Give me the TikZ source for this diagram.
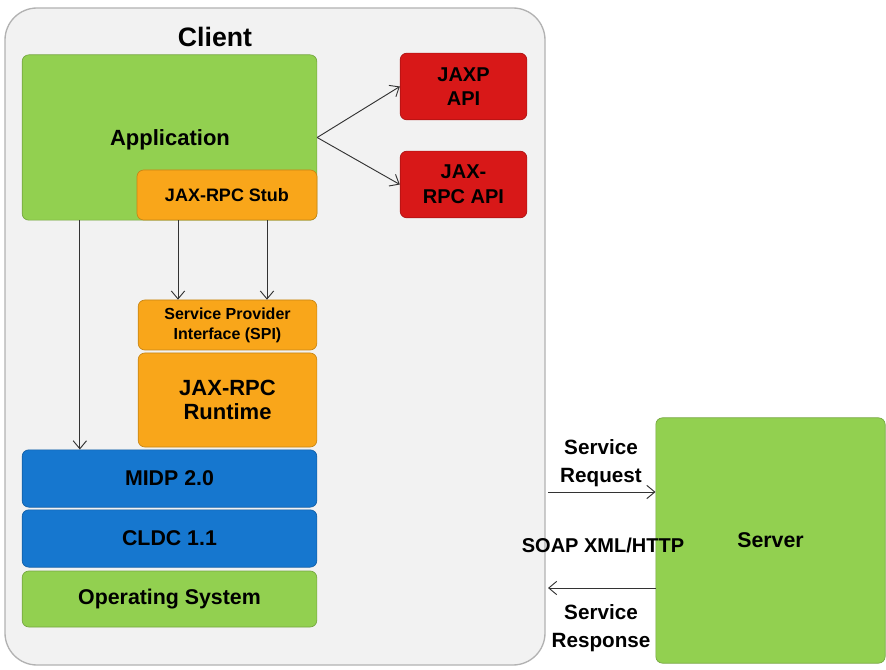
\documentclass[tikz,border=0pt]{standalone}
\usepackage{fontspec}
\setmainfont{Liberation Sans}
\usetikzlibrary{arrows.meta,calc}
\definecolor{appgreen}{HTML}{92D050}
\definecolor{stuborange}{HTML}{F9A61A}
\definecolor{apired}{HTML}{D81818}
\definecolor{midpblue}{HTML}{1677CF}
\newcommand{\fsz}[2]{\fontsize{#1}{#2}\selectfont\bfseries}

\begin{document}
\begin{tikzpicture}[x=0.75pt,y=-0.75pt,
	layer/.style={rounded corners=5pt,align=center,inner sep=0pt,draw=#1!80!black,fill=#1,line width=0.5pt},
	conn/.style={-{Straight Barb[length=6pt,width=10pt]},draw=black!80,line width=0.7pt}]
	\useasboundingbox (0,0) rectangle (886,670);
	\draw[rounded corners=24pt,draw=black!30,fill=black!5,line width=1pt] (5,8) rectangle (545,665);
	\node[font=\fsz{20}{24}] (clienttitle) at (215,37) {Client};
	\node[layer=appgreen,minimum width=221pt,minimum height=124pt] (app) at (169.5,137.5) {};
	\node[font=\fsz{16.5}{20}] (applabel) at (170,140) {Application};
	\node[layer=stuborange,minimum width=135pt,minimum height=37.5pt,font=\fsz{13.5}{16}] (stub) at (227,195) {JAX-RPC Stub};
	\node[layer=apired,minimum width=95pt,minimum height=50pt,font=\fsz{15}{18.5}] (jaxp) at (463.5,86.5) {JAXP\\API};
	\node[layer=apired,minimum width=95pt,minimum height=50pt,font=\fsz{15}{18.5}] (jaxrpc) at (463.5,184.5) {JAX-\\RPC API};
	\node[layer=stuborange,minimum width=134pt,minimum height=37.5pt,font=\fsz{12}{15}] (spi) at (227.5,325) {Service Provider\\Interface (SPI)};
	\node[layer=stuborange,minimum width=134pt,minimum height=70.5pt,font=\fsz{16.5}{18.5}] (runtime) at (227.5,400) {JAX-RPC\\Runtime};
	\node[layer=midpblue,minimum width=221pt,minimum height=43pt,font=\fsz{16}{19}] (midp) at (169.5,478.5) {MIDP 2.0};
	\node[layer=midpblue,minimum width=221pt,minimum height=43pt,font=\fsz{16}{19}] (cldc) at (169.5,538.5) {CLDC 1.1};
	\node[layer=appgreen,minimum width=221pt,minimum height=42pt,font=\fsz{16}{19}] (os) at (169.5,599) {Operating System};
	\node[layer=appgreen,minimum width=172pt,minimum height=184pt,font=\fsz{16}{19}] (server) at (770.5,540.5) {Server};
	\draw[conn] (app.east) -- (jaxp.west);
	\draw[conn] (app.east) -- (jaxrpc.west);
	\coordinate (appdown) at ($(app.south west)+(58,0)$);
	\coordinate (stubleft) at ($(stub.south)+(-49,0)$);
	\coordinate (stubright) at ($(stub.south)+(40,0)$);
	\draw[conn] (appdown) -- (appdown |- midp.north);
	\draw[conn] (stubleft) -- (stubleft |- spi.north);
	\draw[conn] (stubright) -- (stubright |- spi.north);
	\coordinate (req) at (548,492);
	\coordinate (resp) at (548,588);
	\draw[conn] (req) -- (req -| server.west);
	\draw[conn] (resp -| server.west) -- (resp);
	\node[align=center,font=\fsz{15.5}{21.5}] (reqlabel) at (601,463) {Service\\Request};
	\node[font=\fsz{15}{18}] (soap) at (603,545) {SOAP XML/HTTP};
	\node[align=center,font=\fsz{15.5}{21}] (resplabel) at (601,628) {Service\\Response};
\end{tikzpicture}
\end{document}
